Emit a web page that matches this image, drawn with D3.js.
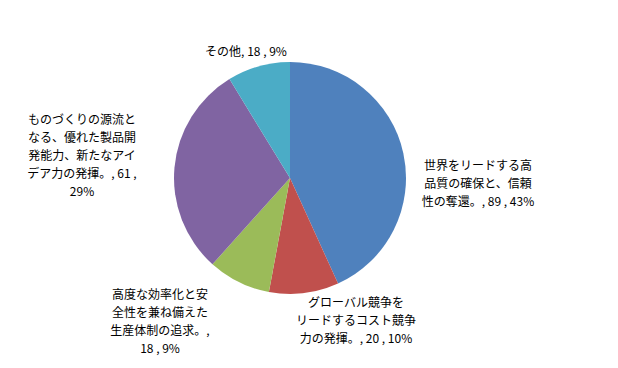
<!DOCTYPE html>
<html>
<head>
<meta charset="utf-8">
<script src="https://cdn.jsdelivr.net/npm/d3@7"></script>
<style>
  body{margin:0;background:#fff;}
  text{font-family:"Noto Sans CJK JP","DejaVu Sans",sans-serif;font-size:12px;fill:#000;}
</style>
</head>
<body>
<svg id="chart" width="618" height="368"></svg>
<script>
// data
var categories = [
  ["世界をリードする高","品質の確保と、信頼","性の奪還。, 89 , 43%"],
  ["グローバル競争を","リードするコスト競争","力の発揮。, 20 , 10%"],
  ["高度な効率化と安","全性を兼ね備えた","生産体制の追求。,","18 , 9%"],
  ["ものづくりの源流と","なる、優れた製品開","発能力、新たなアイ","デア力の発揮。, 61 ,","29%"],
  ["その他, 18 , 9%"]
];
var values = [89, 20, 18, 61, 18];
var colors = ["#4F81BD","#C0504D","#9BBB59","#8064A2","#4BACC6"];

// label layout (centre of first line)
var labelPos = [[478,166],[356,303],[160,295],[82,120],[246,52]];

var svg = d3.select("#chart");
var cx = 290, cy = 178, r = 116;

var pie = d3.pie().sort(null).value(function(d){return d;});
var arc = d3.arc().innerRadius(0).outerRadius(r);

var g = svg.append("g").attr("transform","translate("+cx+","+cy+")");
g.selectAll("path")
  .data(pie(values))
  .enter()
  .append("path")
  .attr("d", arc)
  .attr("fill", function(d,i){return colors[i];});

var lab = svg.selectAll(".lab")
  .data(categories)
  .enter()
  .append("text")
  .attr("class","lab")
  .attr("text-anchor","middle")
  .attr("x", function(d,i){return labelPos[i][0];})
  .attr("y", function(d,i){return labelPos[i][1];});

lab.each(function(d,i){
  var t = d3.select(this);
  d.forEach(function(line,j){
    t.append("tspan")
      .attr("x", labelPos[i][0])
      .attr("dy", j==0 ? "0.35em" : 18)
      .text(line);
  });
});
</script>
</body>
</html>
